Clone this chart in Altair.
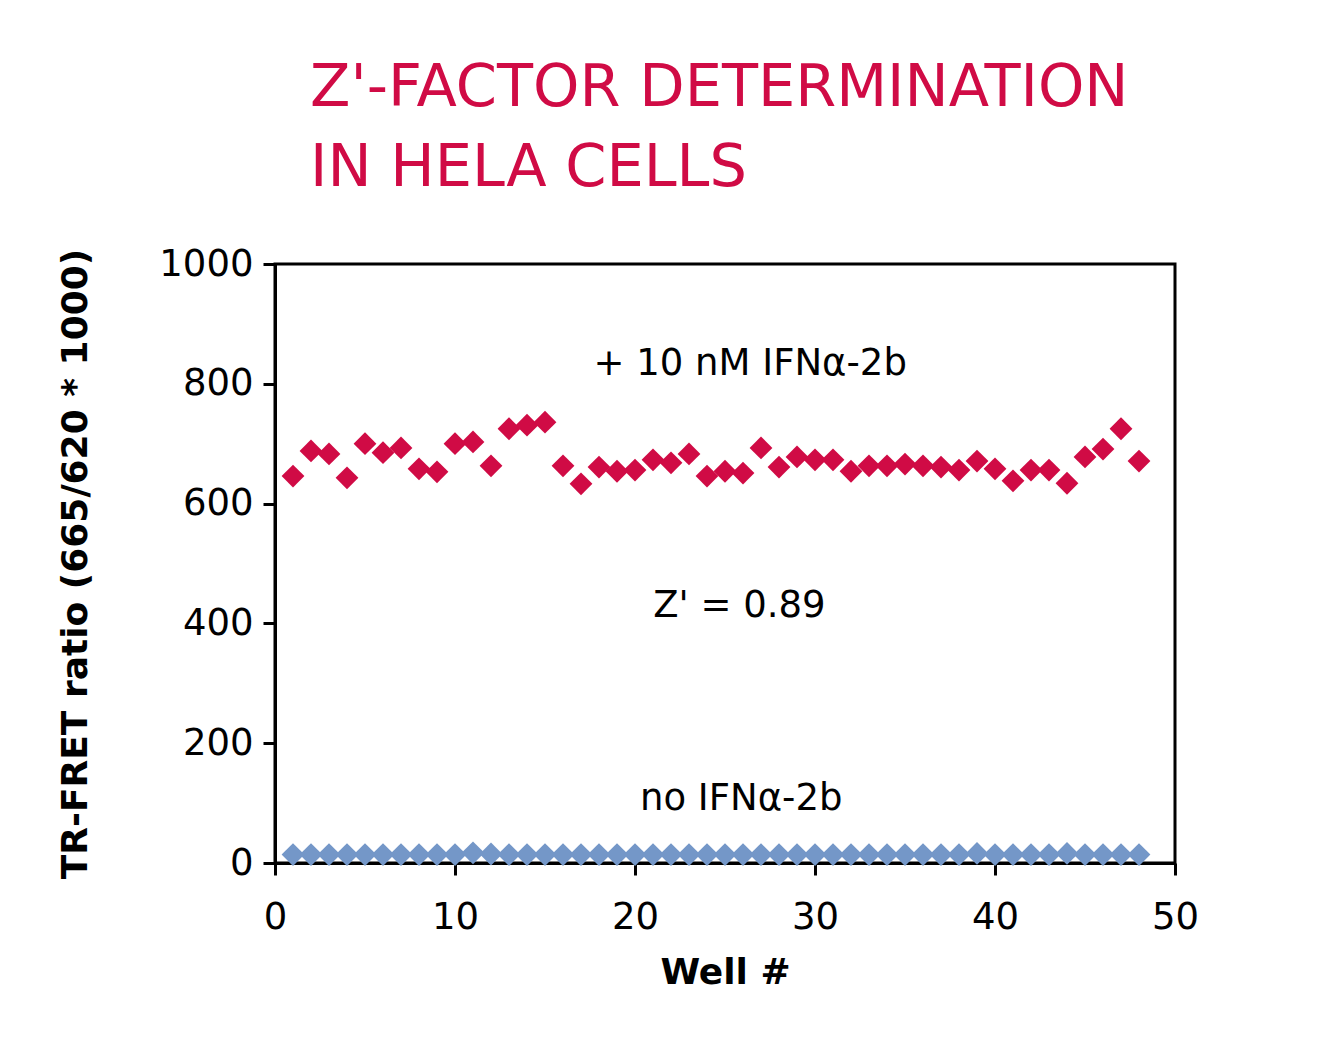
import altair as alt
import pandas as pd

wells = list(range(1, 49))
with_ifn = [646, 688, 683, 643, 700, 685, 693, 658, 653, 700, 703, 663,
            725, 731, 736, 663, 633, 661, 654, 656, 673, 668, 683, 646,
            654, 651, 693, 661, 678, 673, 673, 654, 663, 663, 666, 663,
            661, 656, 671, 658, 638, 656, 656, 634, 678, 691, 725, 671]
no_ifn = [14, 14, 14, 14, 14, 14, 14, 14, 14, 14, 17, 15,
          14, 14, 14, 14, 14, 14, 14, 14, 14, 14, 14, 14,
          14, 14, 14, 14, 14, 14, 14, 14, 14, 14, 14, 14,
          14, 14, 16, 14, 14, 14, 14, 16, 14, 14, 14, 14]

ann_text = ["+ 10 nM IFN\u03b1-2b", "Z' = 0.89", "no IFN\u03b1-2b"]
ann_x = [26.4, 25.8, 25.9]
ann_y = [833, 429, 107]

FONT = "DejaVu Sans"
RED = "#D00B45"
BLUE = "#7497C8"

df = pd.DataFrame({
    "well": wells * 2,
    "ratio": with_ifn + no_ifn,
    "group": ["with"] * 48 + ["without"] * 48,
})
ann = pd.DataFrame({"text": ann_text, "x": ann_x, "y": ann_y})

xscale = alt.Scale(domain=[0, 50], nice=False, zero=False)
yscale = alt.Scale(domain=[0, 1000], nice=False)

points = alt.Chart(df).mark_point(shape="diamond", filled=True, opacity=1, size=520).encode(
    x=alt.X("well:Q", scale=xscale, title="Well #",
            axis=alt.Axis(values=[0, 10, 20, 30, 40, 50], grid=False, format="d",
                          labelFlush=False, labelPadding=24, titlePadding=20)),
    y=alt.Y("ratio:Q", scale=yscale, title="TR-FRET ratio (665/620 * 1000)",
            axis=alt.Axis(values=[0, 200, 400, 600, 800, 1000], grid=False, format="d",
                          labelFlush=False, labelPadding=10, titlePadding=64)),
    color=alt.Color("group:N", scale=alt.Scale(domain=["with", "without"], range=[RED, BLUE]), legend=None),
)

texts = alt.Chart(ann).mark_text(font=FONT, fontSize=37, color="black").encode(
    x=alt.X("x:Q", scale=xscale),
    y=alt.Y("y:Q", scale=yscale),
    text="text:N",
)

chart = (points + texts).properties(
    width=900,
    height=599,
    padding={"left": 57, "top": 59, "right": 20, "bottom": 10},
    title=alt.TitleParams(
        text=["Z'-FACTOR DETERMINATION", "IN HELA CELLS"],
        anchor="start", frame="group", dx=35, font=FONT, fontSize=59, fontWeight="normal",
        color=RED, lineHeight=80, offset=47,
    ),
).configure_view(
    stroke="black", strokeWidth=3
).configure_axis(
    domainColor="black", domainWidth=3, tickColor="black", tickWidth=3, tickSize=12,
    labelFont=FONT, labelFontSize=37, labelColor="black",
    titleFont=FONT, titleFontSize=36, titleFontWeight="bold", titleColor="black",
)

chart.save("out.html", embed_options={"renderer": "svg", "actions": False})
